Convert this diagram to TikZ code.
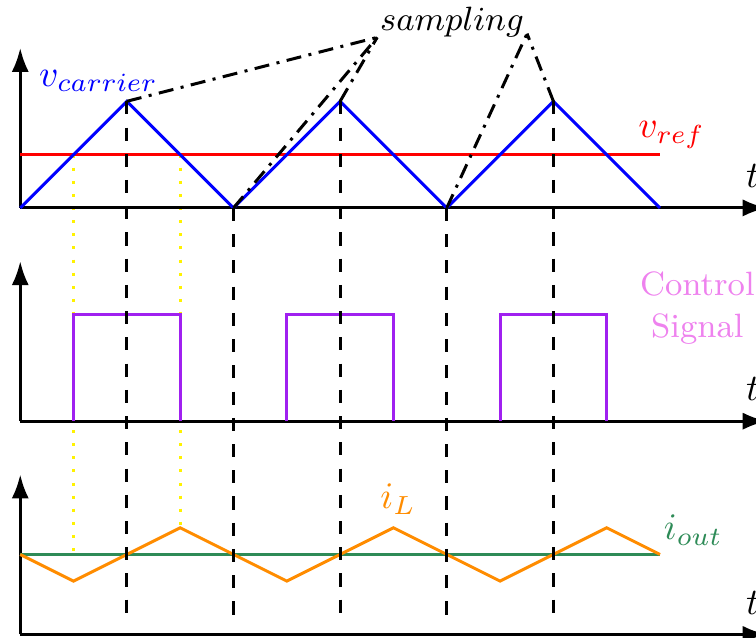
\documentclass[tikz,border=0pt]{standalone}
\usetikzlibrary{arrows.meta}

\definecolor{ctrlpurple}{RGB}{160,32,240}
\definecolor{ctrltext}{RGB}{238,130,238}
\definecolor{ilorange}{RGB}{255,140,0}
\definecolor{outgreen}{RGB}{46,139,87}

\begin{document}
\begin{tikzpicture}[
            axis/.style={-{Latex[length=6.4pt,width=4.6pt]}, thick},
            sig/.style={thick},
            guide/.style={thick, dash pattern=on 3.5pt off 3.5pt},
            cross/.style={thick, yellow, dash pattern=on 0.8pt off 2.7pt},
            samp/.style={thick, dash pattern=on 4pt off 2pt on 0.8pt off 2pt},
            lbl/.style={anchor=base west, inner sep=0pt}
        ]
        \useasboundingbox (-0.19,-4.03) rectangle (6.9,1.95);

        % --- sample points on the carrier ---
        \coordinate (p1) at (1,1);
        \coordinate (v1) at (2,0);
        \coordinate (p2) at (3,1);
        \coordinate (v2) at (4,0);
        \coordinate (p3) at (5,1);
        \coordinate (e1) at (1,-3.86);
        \coordinate (e2) at (2,-3.86);
        \coordinate (e3) at (3,-3.86);
        \coordinate (e4) at (4,-3.86);
        \coordinate (e5) at (5,-3.86);

        % --- crossings carried down ---
        \draw[cross] (0.5,0.5) -- (0.5,-3.25);
        \draw[cross] (1.5,0.5) -- (1.5,-3);

        % --- Carrier and reference ---
        \draw[axis] (0,0) -- (0,1.5);
        \draw[axis] (0,0) -- (7,0);
        \node[lbl] (t1) at (6.8,0.19) {$t$};
        \draw[sig, red] (0,0.5) -- (6,0.5);
        \draw[sig, blue] (0,0) -- (p1) -- (v1) -- (p2) -- (v2) -- (p3) -- (6,0);
        \node[lbl, blue] (vc) at (0.17,1.14) {$v_{carrier}$};
        \node[lbl, red] (vr) at (5.79,0.66) {$v_{ref}$};

        % --- Control signal ---
        \draw[axis] (0,-2) -- (0,-0.5);
        \draw[axis] (0,-2) -- (7,-2);
        \node[lbl] (t2) at (6.8,-1.81) {$t$};
        \draw[sig, ctrlpurple] (0.5,-2) -- (0.5,-1) -- (1.5,-1) -- (1.5,-2);
        \draw[sig, ctrlpurple] (2.5,-2) -- (2.5,-1) -- (3.5,-1) -- (3.5,-2);
        \draw[sig, ctrlpurple] (4.5,-2) -- (4.5,-1) -- (5.5,-1) -- (5.5,-2);
        \node[ctrltext, align=center, font=\small] (cs) at (6.35,-0.94)
            {Control\\Signal};

        % --- Inductor current ---
        \draw[axis] (0,-4) -- (0,-2.5);
        \draw[axis] (0,-4) -- (7,-4);
        \node[lbl] (t3) at (6.8,-3.81) {$t$};
        \draw[sig, outgreen] (0,-3.25) -- (6,-3.25);
        \draw[sig, ilorange] (0,-3.25) -- (0.5,-3.5) -- (1.5,-3) -- (2.5,-3.5)
            -- (3.5,-3) -- (4.5,-3.5) -- (5.5,-3) -- (6,-3.25);
        \node[lbl, ilorange] (il) at (3.37,-2.82) {$i_L$};
        \node[lbl, outgreen] (io) at (6.03,-3.11) {$i_{out}$};

        % --- sampling instants ---
        \draw[guide] (p1) -- (e1);
        \draw[guide] (v1) -- (e2);
        \draw[guide] (p2) -- (e3);
        \draw[guide] (v2) -- (e4);
        \draw[guide] (p3) -- (e5);

        \node[font=\small, inner xsep=0.6pt] (smp) at (4.05,1.74) {$sampling$};
        \draw[samp] (p1) -- ([yshift=-4pt]smp.west);
        \draw[samp] (v1) -- ([yshift=-4pt]smp.west);
        \draw[samp] (p2) -- ([yshift=-4pt]smp.west);
        \draw[samp] (v2) -- ([yshift=-3pt]smp.east);
        \draw[samp] (p3) -- ([yshift=-3pt]smp.east);
        \end{tikzpicture}
\end{document}
